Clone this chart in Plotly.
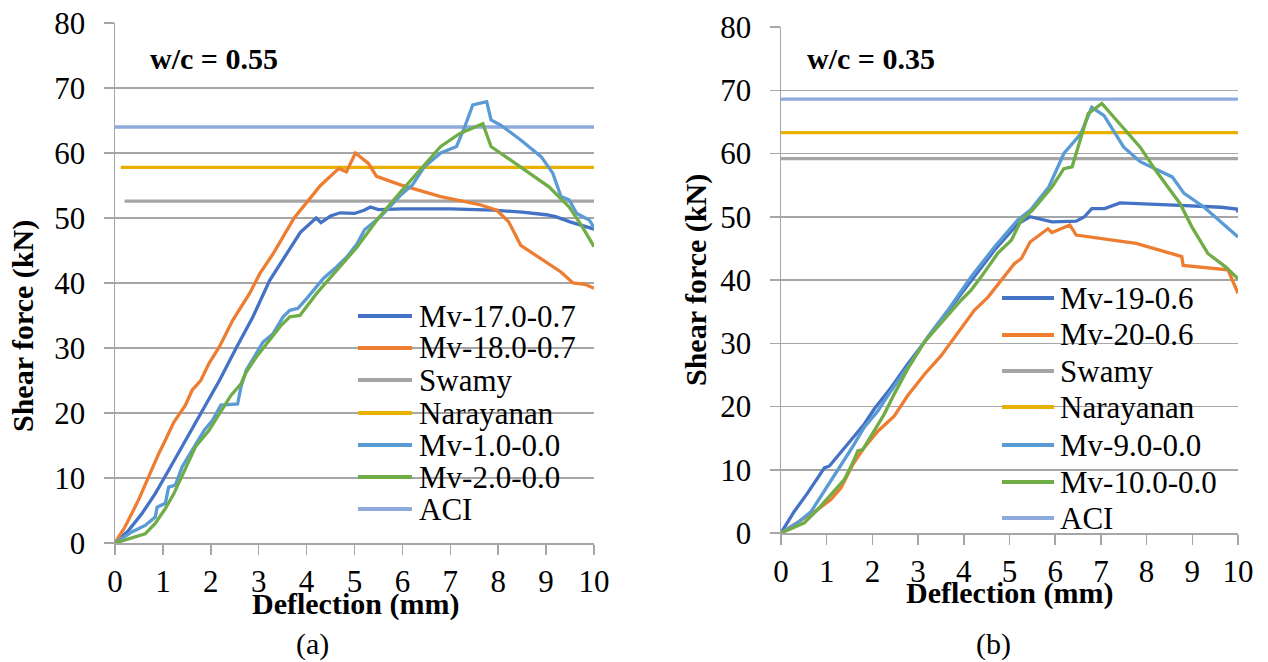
import plotly.graph_objects as go

W, H = 1268, 662

# ---------------- Panel (a): w/c = 0.55 ----------------
x_mv17 = [0, 0.28, 0.56, 0.84, 1.12, 1.4, 1.82, 2.18, 2.53, 2.88, 3.23, 3.58, 3.87, 4.2, 4.3, 4.5, 4.7, 5.0, 5.2, 5.33, 5.5, 6.0, 7.0, 7.9, 8.5, 9.0, 9.2, 9.5, 10.0]
y_mv17 = [0, 1.9, 4.5, 7.6, 11.2, 14.8, 20.4, 25, 30, 34.8, 40.4, 44.5, 47.8, 50, 49.3, 50.3, 50.8, 50.7, 51.2, 51.7, 51.3, 51.4, 51.4, 51.2, 50.9, 50.5, 50.2, 49.4, 48.3]

x_mv18 = [0, 0.21, 0.49, 0.7, 0.91, 1.05, 1.23, 1.47, 1.61, 1.79, 1.96, 2.18, 2.46, 2.81, 3.02, 3.3, 3.58, 3.74, 4.29, 4.67, 4.83, 5.02, 5.29, 5.46, 5.96, 6.8, 7.64, 7.97, 8.22, 8.47, 9.31, 9.56, 9.81, 10.0]
y_mv18 = [0, 2.5, 6.6, 10.2, 13.7, 15.8, 18.6, 21.2, 23.5, 25, 27.6, 30.2, 34.3, 38.4, 41.4, 44.5, 48.1, 50, 55, 57.6, 57.1, 60, 58.4, 56.4, 55.1, 53.3, 52, 51.2, 49.4, 45.8, 41.7, 40, 39.8, 39.2]

x_mv1 = [0, 0.35, 0.63, 0.84, 0.88, 1.05, 1.12, 1.26, 1.4, 1.75, 1.86, 2.04, 2.21, 2.56, 2.63, 2.74, 2.95, 3.09, 3.3, 3.51, 3.65, 3.82, 4.0, 4.35, 4.63, 4.84, 5.05, 5.21, 5.54, 5.96, 6.21, 6.46, 6.8, 7.13, 7.3, 7.47, 7.76, 7.85, 8.05, 8.47, 8.9, 9.14, 9.31, 9.48, 9.64, 9.9, 10.0]
y_mv1 = [0, 1.7, 2.7, 4, 5.5, 6.1, 8.6, 8.9, 11.7, 15.8, 17.3, 18.9, 21.2, 21.4, 24, 26.6, 29.1, 30.9, 32.2, 34.8, 35.8, 36.1, 37.6, 40.7, 42.5, 44, 46, 48.2, 50.2, 53.5, 55.1, 57.9, 60, 61, 64, 67.4, 67.9, 65.1, 64.3, 62, 59.4, 56.9, 53.3, 52.8, 50.7, 49.7, 48.5]

x_mv2 = [0, 0.63, 0.84, 1.05, 1.23, 1.4, 1.68, 1.96, 2.18, 2.42, 2.63, 2.74, 2.95, 3.23, 3.47, 3.65, 3.86, 4.21, 4.56, 5.05, 5.5, 5.96, 6.5, 6.8, 7.2, 7.55, 7.68, 7.85, 8.47, 9.06, 9.48, 9.75, 10.0]
y_mv2 = [0, 1.4, 3, 5.3, 7.6, 10.4, 14.8, 17.3, 19.9, 22.7, 24.5, 26.3, 28.6, 31.2, 33.5, 34.8, 35, 38.4, 41.4, 45.5, 50, 54, 58.5, 61, 63, 64, 64.5, 61, 57.9, 54.8, 51.7, 48.7, 45.6]

x_swamy_a = [0.2, 10]
y_swamy_a = [52.6, 52.6]
x_nara_a = [0.12, 10]
y_nara_a = [57.8, 57.8]
x_aci_a = [0, 10]
y_aci_a = [64.0, 64.0]

# ---------------- Panel (b): w/c = 0.35 ----------------
x_mv19 = [0, 0.29, 0.58, 0.95, 1.06, 1.39, 1.68, 1.82, 2.04, 2.41, 2.77, 3.14, 3.65, 4.16, 4.67, 5.18, 5.45, 5.93, 6.46, 6.64, 6.8, 7.08, 7.42, 8.73, 9.63, 9.98, 10.0]
y_mv19 = [0, 3.4, 6.3, 10.3, 10.6, 13.5, 16.1, 17.2, 19.6, 23, 26.7, 30.2, 35.2, 40, 44.7, 48.9, 50, 49.2, 49.3, 50, 51.3, 51.3, 52.2, 51.8, 51.5, 51.2, 50.7]

x_mv20 = [0, 0.36, 0.8, 1.09, 1.31, 1.57, 1.82, 2.12, 2.48, 2.77, 3.14, 3.5, 3.87, 4.23, 4.53, 4.82, 5.11, 5.26, 5.45, 5.84, 5.93, 6.32, 6.46, 7.77, 8.77, 8.8, 9.78, 10.0]
y_mv20 = [0, 1.6, 3.7, 5.3, 7.1, 10.8, 13.5, 16.1, 18.5, 21.7, 25.1, 28, 31.7, 35.2, 37.3, 40, 42.6, 43.4, 46, 48.1, 47.5, 48.7, 47.1, 45.8, 43.7, 42.3, 41.6, 37.9]

x_mv9 = [0, 0.36, 0.66, 0.95, 1.24, 1.53, 1.82, 2.12, 2.41, 2.77, 3.21, 3.65, 4.16, 4.67, 5.18, 5.45, 5.86, 6.19, 6.56, 6.8, 7.07, 7.5, 7.86, 8.56, 8.82, 9.26, 10.0]
y_mv9 = [0, 1.6, 3.4, 6.6, 9.8, 13.2, 16.7, 19.3, 22.5, 26.2, 31, 35.2, 40.5, 45.2, 49.5, 51, 54.7, 60, 63.1, 67.3, 66, 61, 58.7, 56.3, 53.7, 51.5, 46.8]

x_mv10 = [0, 0.51, 0.8, 1.09, 1.39, 1.57, 1.68, 1.79, 2.01, 2.26, 2.48, 2.77, 3.14, 3.58, 3.94, 4.16, 4.38, 4.74, 5.04, 5.26, 5.5, 5.93, 6.19, 6.37, 6.72, 7.02, 7.86, 8.2, 8.73, 8.99, 9.34, 9.74, 10.0]
y_mv10 = [0, 1.6, 3.7, 6.1, 8.5, 11.1, 13, 13.2, 15.9, 18.8, 22, 25.9, 30.2, 33.9, 36.8, 38.4, 40.5, 44.2, 46.3, 49.5, 51, 54.7, 57.6, 57.9, 66.3, 67.9, 61, 57.3, 52.1, 48.4, 44.2, 42, 40.2]

x_swamy_b = [0, 10]
y_swamy_b = [59.2, 59.2]
x_nara_b = [0, 10]
y_nara_b = [63.3, 63.3]
x_aci_b = [0, 10]
y_aci_b = [68.6, 68.6]

names_a = ["Mv-17.0-0.7", "Mv-18.0-0.7", "Swamy", "Narayanan", "Mv-1.0-0.0", "Mv-2.0-0.0", "ACI"]
names_b = ["Mv-19-0.6", "Mv-20-0.6", "Swamy", "Narayanan", "Mv-9.0-0.0", "Mv-10.0-0.0", "ACI"]
colors = ["#4472C4", "#ED7D31", "#A5A5A5", "#E8B000", "#5B9BD5", "#70AD47", "#8FAADC"]

series_a = [(x_mv17, y_mv17), (x_mv18, y_mv18), (x_swamy_a, y_swamy_a), (x_nara_a, y_nara_a),
            (x_mv1, y_mv1), (x_mv2, y_mv2), (x_aci_a, y_aci_a)]
series_b = [(x_mv19, y_mv19), (x_mv20, y_mv20), (x_swamy_b, y_swamy_b), (x_nara_b, y_nara_b),
            (x_mv9, y_mv9), (x_mv10, y_mv10), (x_aci_b, y_aci_b)]

order = [2, 3, 6, 0, 1, 4, 5]

FONT = "'Liberation Serif', 'Times New Roman', Tinos, 'DejaVu Serif', serif"
fig = go.Figure()

for i in order:
    xs, ys = series_a[i]
    fig.add_trace(go.Scatter(x=xs, y=ys, mode="lines", name=names_a[i],
                             line=dict(color=colors[i], width=3.3), showlegend=False,
                             xaxis="x", yaxis="y"))
for i in order:
    xs, ys = series_b[i]
    fig.add_trace(go.Scatter(x=xs, y=ys, mode="lines", name=names_b[i],
                             line=dict(color=colors[i], width=3.3), showlegend=False,
                             xaxis="x2", yaxis="y2"))


def px(x):
    return x / W


def py(y):
    return 1 - y / H


A_L, A_R, A_T, A_B = 115, 594, 23, 543
B_L, B_R, B_T, B_B = 781, 1238, 27, 533

GRID = "#A6A6A6"
TICK = 31
common_x = dict(range=[0, 10], dtick=1, tick0=0, showgrid=False, zeroline=False,
                showline=True, linecolor=GRID, linewidth=1.5, ticks="outside", ticklen=10,
                tickcolor=GRID, tickwidth=1.5, tickfont=dict(family=FONT, size=TICK, color="black"),
                automargin=False, fixedrange=True)
common_y = dict(range=[0, 80], dtick=10, tick0=0, showgrid=True, gridcolor=GRID, gridwidth=1.5,
                zeroline=False, showline=True, linecolor=GRID, linewidth=1.5, ticks="outside",
                ticklen=10, tickcolor=GRID, tickwidth=1.5,
                tickfont=dict(family=FONT, size=TICK, color="black"), ticklabelstandoff=12,
                automargin=False, fixedrange=True)

fig.update_layout(
    width=W, height=H,
    margin=dict(l=0, r=0, t=0, b=0),
    paper_bgcolor="white", plot_bgcolor="white",
    showlegend=False,
    font=dict(family=FONT),
    xaxis=dict(domain=[px(A_L), px(A_R)], anchor="y", **common_x),
    yaxis=dict(domain=[py(A_B), py(A_T)], anchor="x", **common_y),
    xaxis2=dict(domain=[px(B_L), px(B_R)], anchor="y2", **common_x),
    yaxis2=dict(domain=[py(B_B), py(B_T)], anchor="x2", **common_y),
)

annotations = []
shapes = []


def text(x, y, s, size=31, bold=False, angle=0, xanchor="center"):
    annotations.append(dict(x=px(x), y=py(y), xref="paper", yref="paper", text=(f"<b>{s}</b>" if bold else s),
                            showarrow=False, xanchor=xanchor, yanchor="middle", textangle=angle,
                            font=dict(family=FONT, size=size, color="black")))


text(214, 59, "w/c = 0.55", size=30, bold=True)
text(871, 58, "w/c = 0.35", size=30, bold=True)
text(355, 604, "Deflection (mm)", size=30, bold=True)
text(1009, 593, "Deflection (mm)", size=30, bold=True)
text(23, 326, "Shear force (kN)", size=30, bold=True, angle=-90)
text(696, 280, "Shear force (kN)", size=30, bold=True, angle=-90)
text(312, 644, "(a)", size=30)
text(993, 644, "(b)", size=30)

leg_a_y = [316, 348, 380, 413, 445, 477, 509]
leg_b_y = [298, 335, 371, 407, 445, 482, 518]
for i in range(7):
    shapes.append(dict(type="line", xref="paper", yref="paper", x0=px(358), x1=px(412),
                       y0=py(leg_a_y[i]), y1=py(leg_a_y[i]), line=dict(color=colors[i], width=4)))
    text(417, leg_a_y[i], names_a[i], size=31, xanchor="left")
    shapes.append(dict(type="line", xref="paper", yref="paper", x0=px(1002), x1=px(1054),
                       y0=py(leg_b_y[i]), y1=py(leg_b_y[i]), line=dict(color=colors[i], width=4)))
    text(1058, leg_b_y[i], names_b[i], size=31, xanchor="left")

fig.update_layout(annotations=annotations, shapes=shapes)
fig.write_html("out.html", config={"displayModeBar": False, "staticPlot": True},
               post_script="document.body.style.margin='0px';document.body.style.overflow='hidden';")
